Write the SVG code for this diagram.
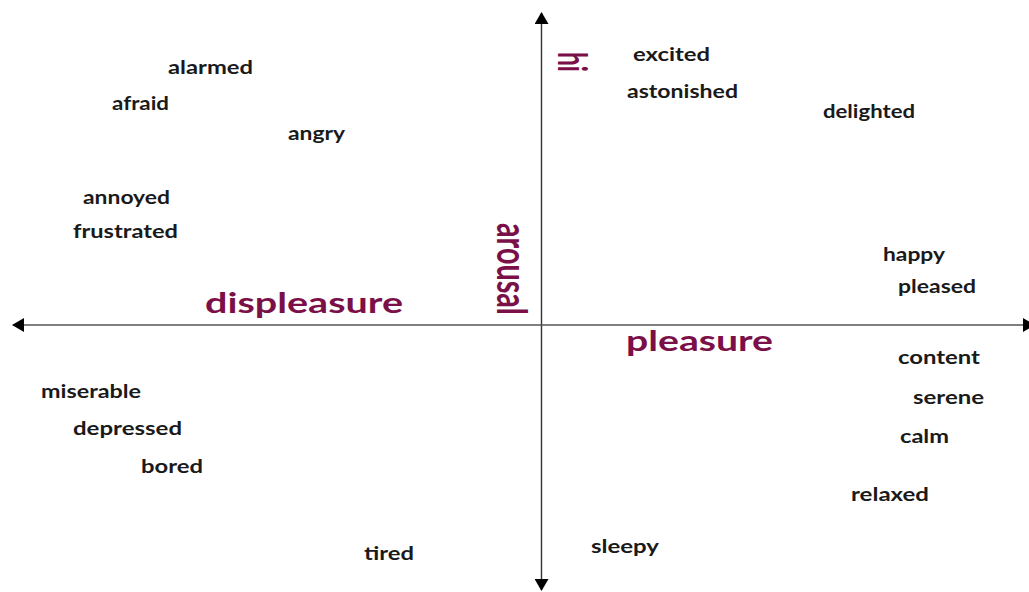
<svg xmlns="http://www.w3.org/2000/svg" width="1029" height="592" viewBox="0 0 1029 592">
<style>
.w{font-family:Lato,"Open Sans","Liberation Sans",sans-serif;font-size:18px;font-weight:bold;fill:#1a1a1a}
.b{font-family:Lato,"Open Sans","Liberation Sans",sans-serif;font-weight:bold;fill:#7b1048}
.ax{stroke:#333;stroke-width:1.4;fill:none}
</style>
<defs>
<marker id="ah" viewBox="0 0 12 14" refX="11" refY="7" markerWidth="12" markerHeight="14" markerUnits="userSpaceOnUse" orient="auto">
<path d="M0,0 L12,7 L0,14 Z" fill="#000"/>
</marker>
</defs>
<rect width="1029" height="592" fill="#fff"/>
<g id="connectors">
<line class="ax" x1="541.5" y1="325" x2="541.5" y2="13" marker-end="url(#ah)"/>
<line class="ax" x1="541.5" y1="325" x2="541.5" y2="590" marker-end="url(#ah)"/>
<line class="ax" style="stroke:#555" x1="541.5" y1="325" x2="13" y2="325" marker-end="url(#ah)"/>
<line class="ax" style="stroke:#555" x1="541.5" y1="325" x2="1034" y2="325" marker-end="url(#ah)"/>
</g>
<g id="hi"><text class="b" font-size="40" textLength="20" lengthAdjust="spacingAndGlyphs" transform="translate(558,52) rotate(90)">hi</text></g>
<g id="arousal"><text class="b" font-size="42" textLength="92" lengthAdjust="spacingAndGlyphs" transform="translate(497,223) rotate(90)">arousal</text></g>
<g id="displeasure"><text class="b" font-size="28" x="205" y="313" textLength="198" lengthAdjust="spacingAndGlyphs">displeasure</text></g>
<g id="pleasure"><text class="b" font-size="28" x="626" y="351" textLength="147" lengthAdjust="spacingAndGlyphs">pleasure</text></g>
<g id="alarmed"><text class="w" x="168" y="74" textLength="85" lengthAdjust="spacingAndGlyphs">alarmed</text></g>
<g id="afraid"><text class="w" x="112" y="110" textLength="57" lengthAdjust="spacingAndGlyphs">afraid</text></g>
<g id="angry"><text class="w" x="288" y="140" textLength="57" lengthAdjust="spacingAndGlyphs">angry</text></g>
<g id="annoyed"><text class="w" x="83" y="204" textLength="87" lengthAdjust="spacingAndGlyphs">annoyed</text></g>
<g id="frustrated"><text class="w" x="73" y="238" textLength="105" lengthAdjust="spacingAndGlyphs">frustrated</text></g>
<g id="excited"><text class="w" x="633" y="61" textLength="77" lengthAdjust="spacingAndGlyphs">excited</text></g>
<g id="astonished"><text class="w" x="627" y="98" textLength="111" lengthAdjust="spacingAndGlyphs">astonished</text></g>
<g id="delighted"><text class="w" x="823" y="118" textLength="92" lengthAdjust="spacingAndGlyphs">delighted</text></g>
<g id="happy"><text class="w" x="883" y="261" textLength="62" lengthAdjust="spacingAndGlyphs">happy</text></g>
<g id="pleased"><text class="w" x="898" y="293" textLength="78" lengthAdjust="spacingAndGlyphs">pleased</text></g>
<g id="content"><text class="w" x="898" y="364" textLength="82" lengthAdjust="spacingAndGlyphs">content</text></g>
<g id="serene"><text class="w" x="913" y="404" textLength="71" lengthAdjust="spacingAndGlyphs">serene</text></g>
<g id="calm"><text class="w" x="900" y="443" textLength="49" lengthAdjust="spacingAndGlyphs">calm</text></g>
<g id="relaxed"><text class="w" x="851" y="501" textLength="78" lengthAdjust="spacingAndGlyphs">relaxed</text></g>
<g id="miserable"><text class="w" x="41" y="398" textLength="100" lengthAdjust="spacingAndGlyphs">miserable</text></g>
<g id="depressed"><text class="w" x="73" y="435" textLength="109" lengthAdjust="spacingAndGlyphs">depressed</text></g>
<g id="bored"><text class="w" x="141" y="473" textLength="62" lengthAdjust="spacingAndGlyphs">bored</text></g>
<g id="tired"><text class="w" x="364" y="560" textLength="50" lengthAdjust="spacingAndGlyphs">tired</text></g>
<g id="sleepy"><text class="w" x="591" y="553" textLength="68" lengthAdjust="spacingAndGlyphs">sleepy</text></g>
</svg>
